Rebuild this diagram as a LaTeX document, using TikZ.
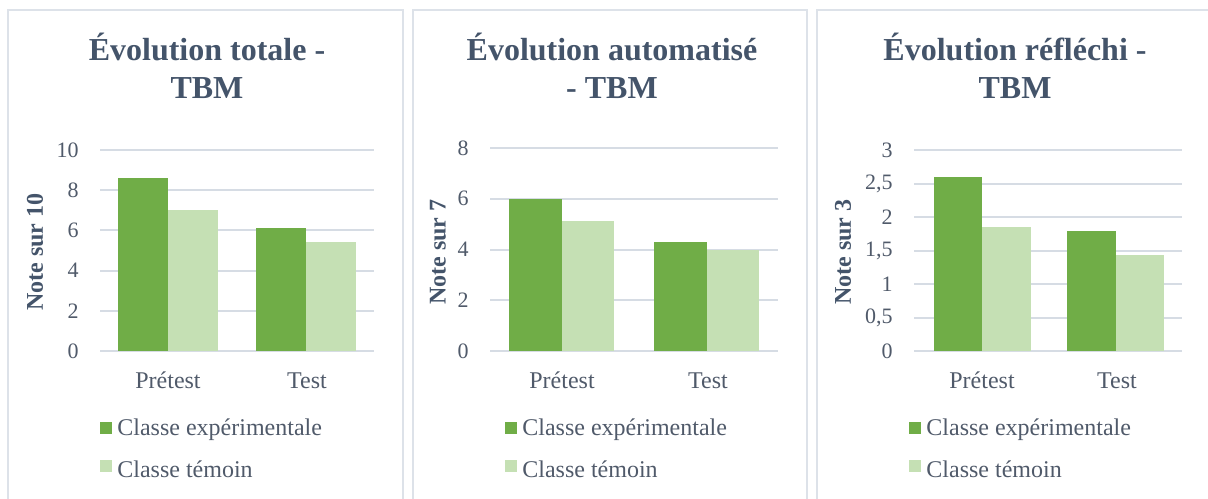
\documentclass[tikz,border=0pt]{standalone}
\usepackage{fontspec}
\setmainfont{Liberation Serif}
\definecolor{expgreen}{HTML}{70AD47}
\definecolor{ctrlgreen}{HTML}{C5E0B4}
\definecolor{slate}{HTML}{44546A}
\definecolor{ticktext}{HTML}{505A6A}
\definecolor{gridgray}{HTML}{D6DCE4}
\definecolor{framegray}{HTML}{DDE2E9}
\begin{document}
\begin{tikzpicture}[x=0.5pt, y=-0.5pt,
  title node/.style={anchor=base, text=slate, font=\fontsize{16}{19}\selectfont\bfseries},
  tick node/.style={anchor=east, inner sep=0pt, text=ticktext, font=\fontsize{11}{13}\selectfont},
  cat node/.style={anchor=base, inner sep=0pt, text=ticktext, font=\fontsize{12}{14}\selectfont},
  axis node/.style={rotate=90, inner sep=0pt, text=slate, font=\fontsize{12}{14}\selectfont\bfseries},
  key node/.style={anchor=base west, inner sep=0pt, text=ticktext, font=\fontsize{12}{14}\selectfont},
  panel frame/.style={draw=framegray, line width=1pt},
  grid line/.style={draw=gridgray, line width=1pt},
  exp bar/.style={fill=expgreen},
  ctrl bar/.style={fill=ctrlgreen}]
\useasboundingbox (0,0) rectangle (1208,498);
%% panel 1 : total
\draw[panel frame] (8,500) -- (8,10) -- (403,10) -- (403,500);
\node[title node] (t1a) at (207,60) {Évolution totale -};
\node[title node] (t1b) at (207,98) {TBM};
\foreach \v in {0,2,...,10}{
  \draw[grid line] (100,{351-20.1*\v}) -- (374,{351-20.1*\v});
  \node[tick node] (y1-\v) at (79,{351-20.1*\v}) {\v};
}
\fill[exp bar] (118,351) rectangle (168,{351-20.1*8.6});
\fill[ctrl bar] (168,351) rectangle (218,{351-20.1*7.0});
\fill[exp bar] (256,351) rectangle (306,{351-20.1*6.1});
\fill[ctrl bar] (306,351) rectangle (356,{351-20.1*5.4});
\node[axis node] (a1) at (35,252) {Note sur 10};
\node[cat node] (c1a) at (168,388) {Prétest};
\node[cat node] (c1b) at (307,388) {Test};
\fill[exp bar] (100,422) rectangle (112,434);
\node[key node] (k1a) at (117,435) {Classe expérimentale};
\fill[ctrl bar] (100,460) rectangle (112,472);
\node[key node] (k1b) at (117,477) {Classe témoin};
%% panel 2 : automatise
\draw[panel frame] (413,500) -- (413,10) -- (807,10) -- (807,500);
\node[title node] (t2a) at (612,60) {Évolution automatisé};
\node[title node] (t2b) at (612,98) {- TBM};
\foreach \v in {0,2,...,8}{
  \draw[grid line] (490,{351-25.375*\v}) -- (778,{351-25.375*\v});
  \node[tick node] (y2-\v) at (469,{351-25.375*\v}) {\v};
}
\fill[exp bar] (509,351) rectangle (562,{351-25.375*6.0});
\fill[ctrl bar] (562,351) rectangle (614,{351-25.375*5.13});
\fill[exp bar] (654,351) rectangle (707,{351-25.375*4.3});
\fill[ctrl bar] (707,351) rectangle (759,{351-25.375*4.0});
\node[axis node] (a2) at (438,252) {Note sur 7};
\node[cat node] (c2a) at (562,388) {Prétest};
\node[cat node] (c2b) at (708,388) {Test};
\fill[exp bar] (505,422) rectangle (517,434);
\node[key node] (k2a) at (522,435) {Classe expérimentale};
\fill[ctrl bar] (505,460) rectangle (517,472);
\node[key node] (k2b) at (522,477) {Classe témoin};
%% panel 3 : reflechi
\draw[panel frame] (817,500) -- (817,10) -- (1210,10);
\node[title node] (t3a) at (1015,60) {Évolution réfléchi -};
\node[title node] (t3b) at (1015,98) {TBM};
\foreach \k/\lab in {0/0,1/{0,5},2/1,3/{1,5},4/2,5/{2,5},6/3}{
  \draw[grid line] (914,{351-33.5*\k}) -- (1182,{351-33.5*\k});
  \node[tick node] (y3-\k) at (893,{351-33.5*\k}) {\lab};
}
\fill[exp bar] (934,351) rectangle (982,{351-67*2.6});
\fill[ctrl bar] (982,351) rectangle (1031,{351-67*1.85});
\fill[exp bar] (1067,351) rectangle (1116,{351-67*1.79});
\fill[ctrl bar] (1116,351) rectangle (1164,{351-67*1.43});
\node[axis node] (a3) at (843,252) {Note sur 3};
\node[cat node] (c3a) at (982,388) {Prétest};
\node[cat node] (c3b) at (1117,388) {Test};
\fill[exp bar] (909,422) rectangle (921,434);
\node[key node] (k3a) at (926,435) {Classe expérimentale};
\fill[ctrl bar] (909,460) rectangle (921,472);
\node[key node] (k3b) at (926,477) {Classe témoin};
\end{tikzpicture}
\end{document}
